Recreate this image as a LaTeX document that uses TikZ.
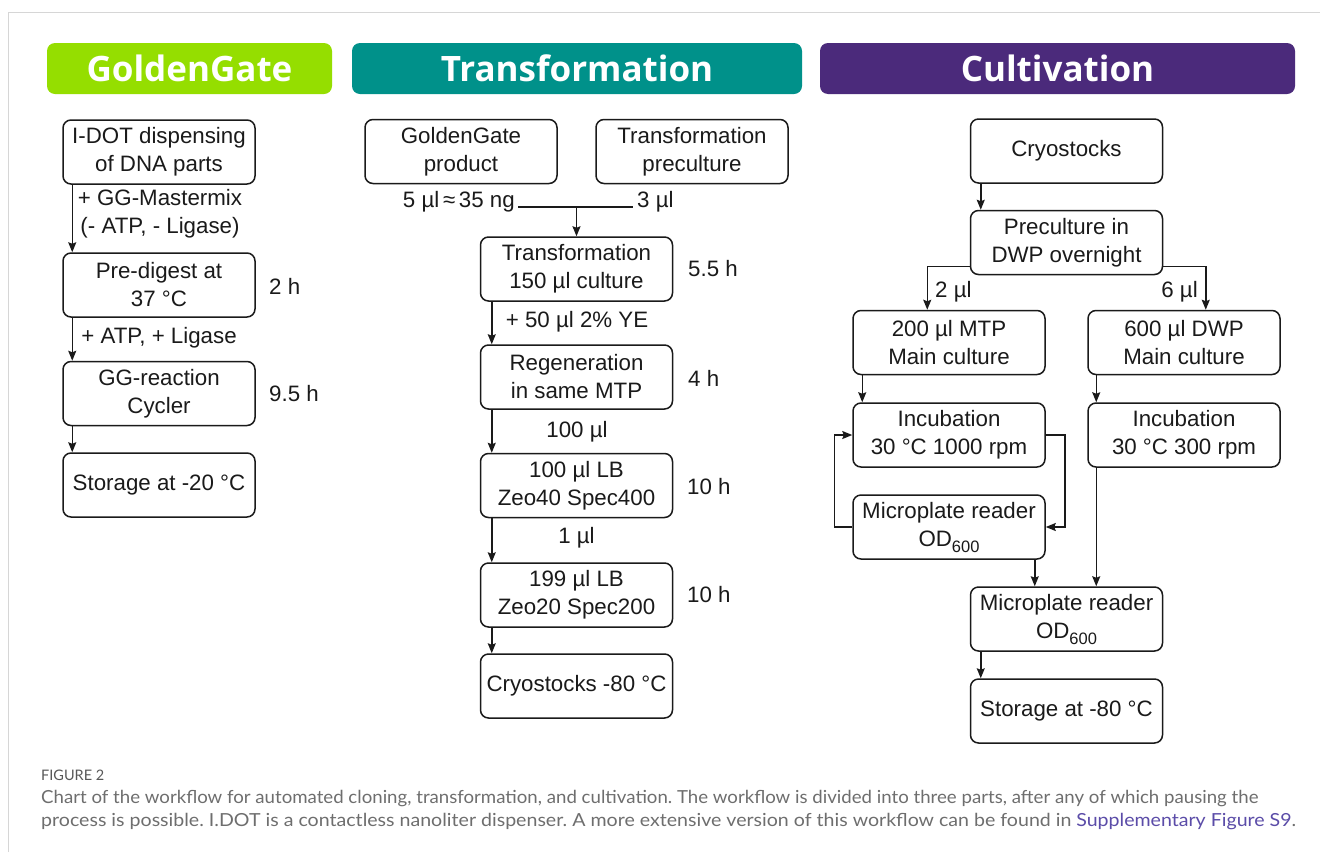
\documentclass[tikz,border=0pt]{standalone}
\usepackage{fontspec}
\setmainfont{Liberation Sans}
\newfontfamily\bannerfont{Open Sans}
\newfontfamily\capfont{Lato}
\usetikzlibrary{arrows.meta}
\definecolor{ggreen}{HTML}{95DE00}
\definecolor{gteal}{HTML}{00918A}
\definecolor{gpurple}{HTML}{4B2A7B}
\definecolor{framec}{HTML}{D6D6D6}
\definecolor{captxt}{HTML}{6E6E6E}
\definecolor{linkc}{HTML}{5B4CA8}
\definecolor{ink}{HTML}{1A1A1A}
\frenchspacing
\begin{document}
\begin{tikzpicture}[x=1pt,y=-1pt,
  box/.style={draw=ink, line width=1.5pt, rounded corners=8pt, minimum width=192pt,
    minimum height=64pt, align=center, inner sep=0pt, text=ink,
    font=\fontsize{22.3}{28}\selectfont},
  lbl/.style={text=ink, inner sep=0pt, align=center, font=\fontsize{22.3}{28}\selectfont},
  banner/.style={rounded corners=8pt, minimum height=51pt, text=white, inner sep=0pt,
    font=\bannerfont\bfseries\fontsize{35}{38}\selectfont},
  ln/.style={draw=ink, line width=1.5pt},
  arr/.style={draw=ink, line width=1.5pt, -{Stealth[length=10pt,width=8pt,inset=1.5pt]}},
  captext/.style={inner sep=0pt, text=captxt, anchor=base west, font=\capfont\fontsize{18}{20}\selectfont}
]
\useasboundingbox (0,0) rectangle (1320,852);
\fill[white] (0,0) rectangle (1320,852);
% frame
\draw[framec, line width=1.5pt] (8.5,852) -- (8.5,12.5) -- (1320,12.5);

% banners
\node[banner, fill=ggreen, minimum width=285pt] (bGG) at (189.5,68.5) {GoldenGate};
\node[banner, fill=gteal, minimum width=450pt] (bTR) at (577,68.5) {Transformation};
\node[banner, fill=gpurple, minimum width=475pt] (bCU) at (1057.5,68.5) {Cultivation};

% ---------- GoldenGate column
\node[box] (idot) at (159,152) {I-DOT dispensing\\of DNA parts};
\node[box] (predig) at (159,285) {Pre-digest at\\37 °C};
\node[box] (ggr) at (159,393.5) {GG-reaction\\Cycler};
\node[box] (stor1) at (159,485) {Storage at -20 °C};
\draw[arr] ([xshift=10pt]idot.south west) -- ([xshift=10pt]predig.north west);
\draw[arr] ([xshift=10pt]predig.south west) -- ([xshift=10pt]ggr.north west);
\draw[arr] ([xshift=10pt]ggr.south west) -- ([xshift=10pt]stor1.north west);
\node[lbl] (lgg) at (160,214) {+ GG-Mastermix\\(- ATP, - Ligase)};
\node[lbl] (latp) at (159,338) {+ ATP, + Ligase};
\node[lbl, anchor=west] (t2) at (269,286) {2 h};
\node[lbl, anchor=west] (t95) at (269,394) {9.5 h};

% ---------- Transformation column
\node[box] (ggp) at (461,151.5) {GoldenGate\\product};
\node[box] (tpc) at (692,151.5) {Transformation\\preculture};
\node[lbl, anchor=base east] (l5) at (515,207) {5 µl\,≈\,35 ng};
\node[lbl, anchor=base west] (l3) at (637,207) {3 µl};
\draw[ln] ([xshift=3pt]l5.base east) -- ([xshift=-4pt]l3.base west);
\coordinate (j) at (576.5,207);
\node[box] (trans) at (576.5,269) {Transformation\\150 µl culture};
\node[box] (regen) at (576.5,377) {Regeneration\\in same MTP};
\node[box] (lb1) at (576.5,485.5) {100 µl LB\\Zeo40 Spec400};
\node[box] (lb2) at (576.5,595) {199 µl LB\\Zeo20 Spec200};
\node[box] (cryo1) at (576.5,686) {Cryostocks -80 °C};
\draw[arr] (j) -- (trans.north);
\draw[arr] ([xshift=12pt]trans.south west) -- ([xshift=12pt]regen.north west);
\draw[arr] ([xshift=12pt]regen.south west) -- ([xshift=12pt]lb1.north west);
\draw[arr] ([xshift=12pt]lb1.south west) -- ([xshift=12pt]lb2.north west);
\draw[arr] ([xshift=12pt]lb2.south west) -- ([xshift=12pt]cryo1.north west);
\node[lbl] (l50) at (577,322) {+ 50 µl 2\% YE};
\node[lbl] (l100) at (577,432) {100 µl};
\node[lbl] (l1) at (576.5,538) {1 µl};
\node[lbl, anchor=west] (t55) at (688,269) {5.5 h};
\node[lbl, anchor=west] (t4) at (688,378) {4 h};
\node[lbl, anchor=west] (t10a) at (687,487) {10 h};
\node[lbl, anchor=west] (t10b) at (687,595) {10 h};

% ---------- Cultivation column
\node[box] (cryo2) at (1066.5,151) {Cryostocks};
\node[box] (prec) at (1066.5,242.5) {Preculture in\\DWP overnight};
\node[box] (mtp) at (949,342.5) {200 µl MTP\\Main culture};
\node[box] (dwp) at (1184,342.5) {600 µl DWP\\Main culture};
\node[box] (inc1) at (949,435) {Incubation\\30 °C 1000 rpm};
\node[box] (inc2) at (1184,435) {Incubation\\30 °C 300 rpm};
\node[box] (mr1) at (949,527) {Microplate reader\\OD\raisebox{-6pt}{\fontsize{16.5}{16.5}\selectfont 600}};
\node[box] (mr2) at (1066.5,619) {Microplate reader\\OD\raisebox{-6pt}{\fontsize{16.5}{16.5}\selectfont 600}};
\node[box] (stor2) at (1066.5,711) {Storage at -80 °C};
\draw[arr] ([xshift=11pt]cryo2.south west) -- ([xshift=11pt]prec.north west);
\draw[arr] ([yshift=9pt]prec.south west) -| ([xshift=75pt]mtp.north west);
\draw[arr] ([yshift=9pt]prec.south east) -| ([xshift=-75pt]dwp.north east);
\node[lbl, anchor=west] (l2) at (935,292) {2 µl};
\node[lbl, anchor=east] (l6) at (1198,292) {6 µl};
\draw[arr] ([xshift=10pt]mtp.south west) -- ([xshift=10pt]inc1.north west);
\draw[arr] ([xshift=9pt]dwp.south west) -- ([xshift=9pt]inc2.north west);
\draw[arr] (mr1.west) -- ++(-18,0) |- (inc1.west);
\draw[arr] (inc1.east) -- ++(19,0) |- (mr1.east);
\draw[arr] ([xshift=-11pt]mr1.south east) coordinate (ta) -- (ta |- mr2.north);
\draw[arr] ([xshift=9pt]inc2.south west) coordinate (tb) -- (tb |- mr2.north);
\draw[arr] ([xshift=11pt]mr2.south west) -- ([xshift=11pt]stor2.north west);

% ---------- caption
\node[captext, text=captxt!80!black, font=\capfont\fontsize{14.5}{16}\selectfont] (fig) at (41,780) {FIGURE 2};
\node[captext] (c1) at (41,803) {\resizebox{1217pt}{\height}{Chart of the workflow for automated cloning, transformation, and cultivation. The workflow is divided into three parts, after any of which pausing the}};
\node[captext] (c2) at (41,826) {\resizebox{1255pt}{\height}{process is possible. I.DOT is a contactless nanoliter dispenser. A more extensive version of this workflow can be found in \textcolor{linkc}{Supplementary Figure S9}.}};
\end{tikzpicture}
\end{document}
